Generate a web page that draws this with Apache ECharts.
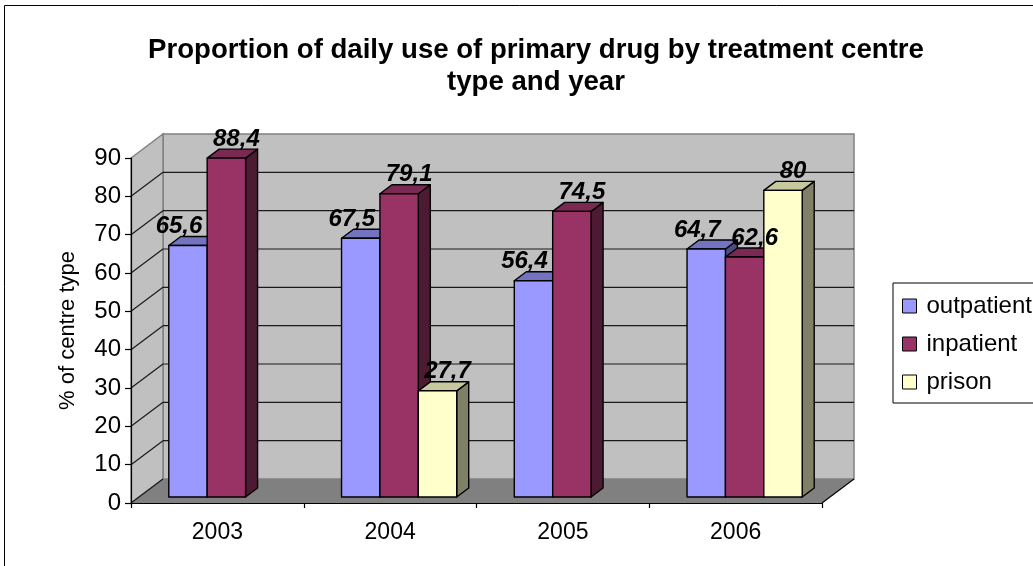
<!DOCTYPE html>
<html>
<head>
<meta charset="utf-8">
<script src="https://cdn.jsdelivr.net/npm/echarts@6/dist/echarts.min.js"></script>
<style>
  html, body { margin: 0; padding: 0; background: #fff; }
  #chart { width: 1033px; height: 566px; }
</style>
</head>
<body>
<div id="chart"></div>
<script>
// Data
const categories = ['2003', '2004', '2005', '2006'];
const outpatient = [65.6, 67.5, 56.4, 64.7];
const inpatient = [88.4, 79.1, 74.5, 62.6];
const prison = [null, 27.7, null, 80];
const seriesNames = ['outpatient', 'inpatient', 'prison'];
const yTickValues = [0, 10, 20, 30, 40, 50, 60, 70, 80, 90];
const titleText = 'Proportion of daily use of primary drug by treatment centre\ntype and year';
const yAxisTitle = '% of centre type';

// Styling
const FONT = '"Liberation Sans", Arial, sans-serif';
const palette = [
  { front: '#9999FF', top: '#7373BF', side: '#4D4D80' },
  { front: '#993366', top: '#7A2952', side: '#4D1A33' },
  { front: '#FFFFCC', top: '#C8C89E', side: '#808066' }
];
const WALL_DEPTH = [32, -24];   // projection of the full floor depth
const BAR_FRONT = [9, -6];      // bar front face offset from the front plane
const BAR_DEPTH = [12, -9];     // bar thickness in depth
const LABEL_DX = [-9, 10, 10];  // label nudge per series

const allSeries = [outpatient, inpatient, prison];
const yMin = yTickValues[0];
const yMax = yTickValues[yTickValues.length - 1];
const yStep = yTickValues[1] - yTickValues[0];

function barGeom(api, cat, v, sIdx) {
  const band = api.size([1, 0])[0];
  const w = band / 4.5;
  const start = api.coord([cat, 0])[0] - band / 2;
  const left = start + (band - 3 * w) / 2 + sIdx * w + BAR_FRONT[0];
  const yTop = api.coord([cat, v])[1] + BAR_FRONT[1];
  const yBot = api.coord([cat, 0])[1] + BAR_FRONT[1];
  return { left, w, yTop, yBot };
}

function renderWalls(params, api) {
  const cs = params.coordSys;
  const x0 = cs.x, x1 = cs.x + cs.width;
  const y0 = api.coord([0, yMin])[1];
  const yT = api.coord([0, yMax])[1];
  const dx = WALL_DEPTH[0], dy = WALL_DEPTH[1];
  const children = [];
  children.push({ type: 'polygon', shape: { points: [[x0, y0], [x1, y0], [x1 + dx, y0 + dy], [x0 + dx, y0 + dy]] },
    style: { fill: '#808080', stroke: null } });
  children.push({ type: 'rect', shape: { x: x0 + dx, y: yT + dy, width: x1 - x0, height: y0 - yT },
    style: { fill: '#C0C0C0', stroke: '#808080', lineWidth: 1.5 } });
  children.push({ type: 'polygon', shape: { points: [[x0, y0], [x0 + dx, y0 + dy], [x0 + dx, yT + dy], [x0, yT]] },
    style: { fill: '#C0C0C0', stroke: '#808080', lineWidth: 1.5 } });
  yTickValues.forEach(function (t) {
    if (t === yMax) return;
    const y = api.coord([0, t])[1];
    if (t !== yMin) {
      children.push({ type: 'line', shape: { x1: x0 + dx, y1: y + dy, x2: x1 + dx, y2: y + dy },
        style: { stroke: '#1a1a1a', lineWidth: 1.2 } });
    }
    children.push({ type: 'line', shape: { x1: x0, y1: y, x2: x0 + dx, y2: y + dy },
      style: { stroke: '#1a1a1a', lineWidth: 1.2 } });
  });
  children.push({ type: 'line', shape: { x1: x1, y1: y0, x2: x1 + dx, y2: y0 + dy },
    style: { stroke: '#000', lineWidth: 1.2 } });
  return { type: 'group', children: children, silent: true };
}

function makeBarRenderer(sIdx) {
  const c = palette[sIdx];
  return function (params, api) {
    const g = barGeom(api, api.value(0), api.value(1), sIdx);
    const L = g.left, R = g.left + g.w, T = g.yTop, B = g.yBot;
    const dx = BAR_DEPTH[0], dy = BAR_DEPTH[1];
    const stroke = { stroke: '#000', lineWidth: 1.4, lineJoin: 'round' };
    return {
      type: 'group',
      children: [
        { type: 'polygon', shape: { points: [[R, T], [R + dx, T + dy], [R + dx, B + dy], [R, B]] },
          style: Object.assign({ fill: c.side }, stroke) },
        { type: 'polygon', shape: { points: [[L, T], [R, T], [R + dx, T + dy], [L + dx, T + dy]] },
          style: Object.assign({ fill: c.top }, stroke) },
        { type: 'rect', shape: { x: L, y: T, width: g.w, height: B - T },
          style: Object.assign({ fill: c.front }, stroke) }
      ]
    };
  };
}

function renderLabel(params, api) {
  const cat = api.value(0), v = api.value(1), sIdx = api.value(2);
  const g = barGeom(api, cat, v, sIdx);
  const cx = g.left + g.w / 2 + LABEL_DX[sIdx];
  const topBack = g.yTop + BAR_DEPTH[1];
  return {
    type: 'text',
    x: cx, y: topBack + 2,
    style: {
      text: String(v).replace('.', ','),
      fill: '#000',
      font: 'italic bold 24px ' + FONT,
      align: 'center',
      verticalAlign: 'bottom'
    }
  };
}

const series = [{
  type: 'custom',
  name: 'walls',
  renderItem: renderWalls,
  data: [[0, 0]],
  z: 1,
  silent: true,
  tooltip: { show: false }
}];

allSeries.forEach(function (vals, sIdx) {
  const data = [];
  vals.forEach(function (v, i) { if (v !== null) data.push([i, v]); });
  series.push({
    type: 'custom',
    name: seriesNames[sIdx],
    renderItem: makeBarRenderer(sIdx),
    itemStyle: { color: palette[sIdx].front, borderColor: '#000', borderWidth: 1 },
    encode: { x: 0, y: 1 },
    data: data,
    z: 2
  });
});

const labelData = [];
allSeries.forEach(function (vals, sIdx) {
  vals.forEach(function (v, i) { if (v !== null) labelData.push([i, v, sIdx]); });
});
series.push({
  type: 'custom',
  name: 'labels',
  renderItem: renderLabel,
  encode: { x: 0, y: 1 },
  data: labelData,
  z: 4,
  silent: true
});

const chart = echarts.init(document.getElementById('chart'), null, { renderer: 'canvas' });
chart.setOption({
  animation: false,
  backgroundColor: '#fff',
  textStyle: { fontFamily: FONT },
  graphic: [
    { type: 'rect', shape: { x: 4.5, y: 5.5, width: 1100, height: 700 },
      style: { fill: null, stroke: '#000', lineWidth: 1 }, z: 0, silent: true },
    { type: 'text', x: 536, y: 34, z: 10,
      style: { text: titleText, fill: '#000', font: 'bold 27.6px ' + FONT,
        align: 'center', verticalAlign: 'top', lineHeight: 32 } }
  ],
  grid: { left: 131, top: 158, width: 691, height: 345, containLabel: false },
  legend: {
    orient: 'vertical', left: 893, top: 283,
    data: seriesNames, icon: 'rect', selectedMode: false,
    itemWidth: 14, itemHeight: 14, itemGap: 14,
    padding: [11, 60, 9, 9],
    borderColor: '#000', borderWidth: 1, borderRadius: 0,
    itemStyle: { borderColor: '#000', borderWidth: 1 },
    textStyle: { fontSize: 24, color: '#000', fontFamily: FONT, lineHeight: 22, padding: [0, 0, 0, 5] }
  },
  xAxis: {
    type: 'category', data: categories, boundaryGap: true, z: 5,
    axisLine: { show: true, lineStyle: { color: '#000', width: 1.2 } },
    axisTick: { show: true, length: 5, inside: false, lineStyle: { color: '#000', width: 1.2 } },
    axisLabel: { fontSize: 23, color: '#000', margin: 18, fontFamily: FONT },
    splitLine: { show: false }
  },
  yAxis: {
    type: 'value', min: yMin, max: yMax, interval: yStep, z: 5,
    name: yAxisTitle, nameLocation: 'middle', nameRotate: 90, nameGap: 52,
    nameTextStyle: { fontSize: 22, color: '#000', fontFamily: FONT },
    axisLine: { show: true, lineStyle: { color: '#000', width: 1.2 } },
    axisTick: { show: true, length: 6, inside: false, lineStyle: { color: '#000', width: 1.2 } },
    axisLabel: { fontSize: 24, color: '#000', margin: 10, fontFamily: FONT },
    splitLine: { show: false }
  },
  series: series
});
</script>
</body>
</html>
